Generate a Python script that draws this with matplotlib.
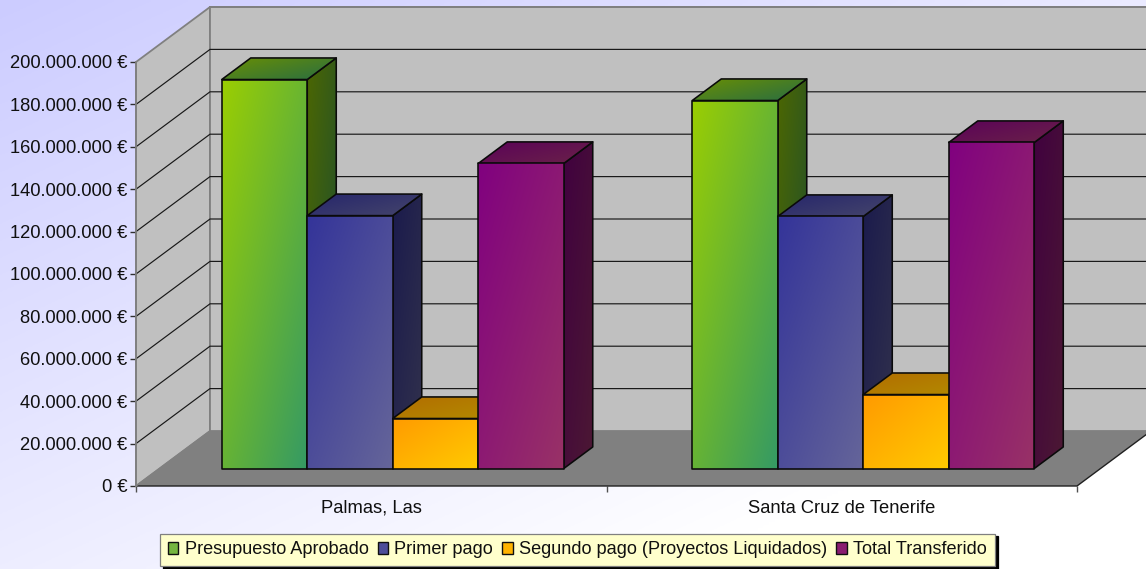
import numpy as np
import matplotlib
matplotlib.use("Agg")
import matplotlib.pyplot as plt
from matplotlib.colors import to_rgb
from matplotlib.patches import Polygon, Patch

categories = ["Palmas, Las", "Santa Cruz de Tenerife"]
series_names = ["Presupuesto Aprobado", "Primer pago",
                "Segundo pago (Proyectos Liquidados)", "Total Transferido"]
presupuesto = [183.5e6, 173.6e6]
primer_pago = [119.3e6, 118.9e6]
segundo_pago = [23.6e6, 34.9e6]
total_transferido = [143.9e6, 153.8e6]
y_ticks = list(range(0, 200000001, 20000000))
y_labels = ["0 €", "20.000.000 €", "40.000.000 €", "60.000.000 €", "80.000.000 €",
            "100.000.000 €", "120.000.000 €", "140.000.000 €", "160.000.000 €",
            "180.000.000 €", "200.000.000 €"]
series_values = [presupuesto, primer_pago, segundo_pago, total_transferido]
grad_colors = [("#9CCF00", "#339966"), ("#333399", "#666699"),
               ("#FF9900", "#FFCC00"), ("#800080", "#993366")]
mid_colors = ["#75B540", "#4D4D99", "#FFB300", "#8A1B70"]

W, H = 1146, 569
FS = 13.2
plt.rcParams["font.family"] = ["Liberation Sans", "DejaVu Sans"]
fig = plt.figure(figsize=(W / 100, H / 100), dpi=100)

# background gradient
bg = fig.add_axes([0, 0, 1, 1], zorder=0)
bg.axis("off")
yy, xx = np.mgrid[0:1:200j, 0:1:400j]
t = np.clip(0.6 * xx + 0.65 * yy, 0, 1)[..., None]
bg.imshow(np.array(to_rgb("#CCCCFF")) * (1 - t) + t * np.array([1, 1, 1]),
          aspect="auto", extent=(0, 1, 0, 1), origin="upper")

# axes = front plane of the 3D box
L, R, T, B = 136, 1077, 62, 486
ax = fig.add_axes([L / W, 1 - B / H, (R - L) / W, (B - T) / H], zorder=1)
ax.patch.set_visible(False)
for s in ax.spines.values():
    s.set_visible(False)
ax.set_xlim(0, 2)
ax.set_ylim(0, 200e6)

DX = 74 / (R - L) * 2
DY = 55 / (B - T) * 200e6
YMAX = 200e6
PADX = 3 / (R - L) * 2
PADY = 3 / (B - T) * 200e6


def pj(x, v, d):
    return (x + DX * d, v + DY * d)


# walls and floor
GR = "#808080"
ax.add_patch(Polygon([pj(0, 0, 0), pj(0, YMAX, 0), pj(0, YMAX, 1), pj(0, 0, 1)],
                     fc="#C0C0C0", ec=GR, lw=1.3, clip_on=False, zorder=1))
ax.add_patch(Polygon([pj(0, 0, 1), pj(0, YMAX, 1), pj(2, YMAX, 1), pj(2, 0, 1)],
                     fc="#C0C0C0", ec=GR, lw=1.3, clip_on=False, zorder=1))
ax.add_patch(Polygon([pj(0, 0, 0), pj(0, 0, 1), pj(2, 0, 1), pj(2, 0, 0)],
                     fc=GR, ec="none", clip_on=False, zorder=2))
for v in y_ticks[1:-1]:
    x0, y0 = pj(0, v, 0)
    x1, y1 = pj(0, v, 1)
    x2, y2 = pj(2, v, 1)
    ax.plot([x0, x1, x2], [y0, y1, y2], color="#181818", lw=0.85, clip_on=False, zorder=1.5)
x1, y1 = pj(0, YMAX, 1)
x2, y2 = pj(2, YMAX, 1)
ax.plot([x1, x2], [y1, y2], color=GR, lw=1.3, clip_on=False, zorder=1.5)
x1, y1 = pj(2, 0, 1)
ax.plot([0, 2, x1], [0, 0, y1], color="#202020", lw=1.0, clip_on=False, zorder=2.5)
x1, y1 = pj(0, 0, 1)
ax.plot([0, x1], [0, y1], color=GR, lw=1.0, clip_on=False, zorder=2.5)
ax.plot([0, 0], [0, YMAX], color=GR, lw=1.3, clip_on=False, zorder=2.5)


def gradient_face(pts, c0, c1, factor, z):
    pts = np.array(pts)
    x0, x1 = pts[:, 0].min() - PADX, pts[:, 0].max() + PADX
    y0, y1 = pts[:, 1].min() - PADY, pts[:, 1].max() + PADY
    v, u = np.mgrid[0:1:48j, 0:1:48j]
    s = ((u + v) / 2)[..., None]
    img = (np.array(to_rgb(c0)) * (1 - s) + np.array(to_rgb(c1)) * s) * factor
    im = ax.imshow(img, extent=(x0, x1, y0, y1), origin="upper", aspect="auto",
                   interpolation="bilinear", zorder=z)
    poly = Polygon(pts, fc="none", ec="#0A0A0A", lw=1.15, joinstyle="round",
                   clip_on=False, zorder=z + 0.01)
    ax.add_patch(poly)
    im.set_clip_path(poly)
    im.set_clip_box(fig.bbox)


BW = 85.5 / (R - L) * 2
D0, D1 = 23.5 / 74, 52.5 / 74
SHIFT = -2 / (R - L) * 2
z = 3.0
for c, center in enumerate([0.5, 1.5]):
    for s, vals in enumerate(series_values):
        c0, c1 = grad_colors[s]
        xl = center + SHIFT + (s - 2) * BW
        xr = xl + BW
        v = vals[c]
        gradient_face([pj(xr, 0, D0), pj(xr, v, D0), pj(xr, v, D1), pj(xr, 0, D1)],
                      c0, c1, 0.5, z)
        gradient_face([pj(xl, v, D0), pj(xr, v, D0), pj(xr, v, D1), pj(xl, v, D1)],
                      c0, c1, 0.7, z + 0.1)
        gradient_face([pj(xl, 0, D0), pj(xr, 0, D0), pj(xr, v, D0), pj(xl, v, D0)],
                      c0, c1, 1.0, z + 0.2)
        z += 0.5
ax.set_xlim(0, 2)
ax.set_ylim(0, 200e6)

# axes ticks
ax.set_yticks(y_ticks)
ax.set_yticklabels(y_labels, fontsize=FS, color="#101010")
ax.tick_params(axis="y", length=4.5, width=1, color="#303030", pad=1.5)
ax.set_xticks([0, 1, 2])
ax.set_xticklabels(["", "", ""])
ax.tick_params(axis="x", which="major", length=4.5, width=1, color="#505050")
ax.set_xticks([0.5, 1.5], minor=True)
ax.set_xticklabels(categories, minor=True, fontsize=FS, color="#101010", va="baseline")
ax.tick_params(axis="x", which="minor", length=0, pad=19.4)

# legend
handles = [Patch(fc=m, ec="#101010", lw=1.0) for m in mid_colors]
leg = fig.legend(handles, series_names, loc="lower left",
                 bbox_to_anchor=(160 / W, 1 - 566 / H), bbox_transform=fig.transFigure,
                 ncol=4, fontsize=13.1, frameon=True, fancybox=False,
                 shadow={"color": "black", "alpha": 1},
                 facecolor="#FFFFCC", edgecolor="#808080", framealpha=1,
                 handlelength=0.58, handleheight=0.58, handletextpad=0.35,
                 columnspacing=0.5, borderpad=0.42, borderaxespad=0)
leg.get_frame().set_linewidth(0.9)
for tx in leg.get_texts():
    tx.set_color("#101010")
leg.set_zorder(5)

fig.savefig("out.png", dpi=100)
